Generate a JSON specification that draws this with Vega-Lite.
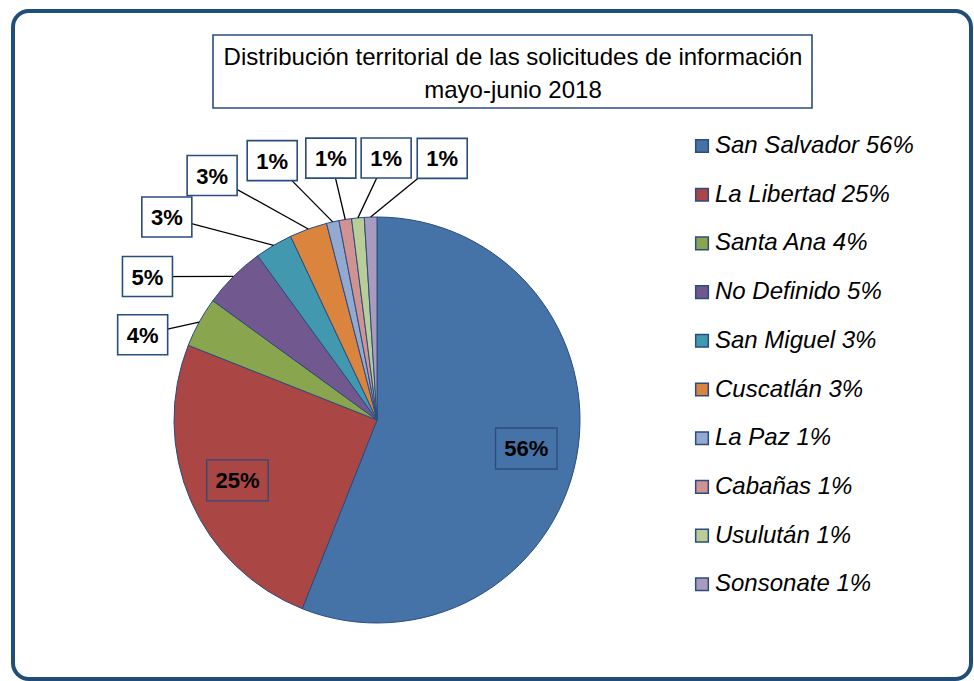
{
  "$schema": "https://vega.github.io/schema/vega-lite/v6.json",
  "width": 958,
  "height": 668,
  "autosize": {"type": "none"},
  "padding": {"left": 13, "top": 11, "right": 3, "bottom": 2},
  "background": "white",
  "config": {
    "view": {"stroke": "#1F4E79", "strokeWidth": 4, "cornerRadius": 16, "fill": "white"},
    "font": "Liberation Sans, Arial",
    "legend": {
      "orient": "none", "legendX": 677, "legendY": 123, "padding": 0,
      "labelFont": "Liberation Sans, Arial",
      "labelFontSize": 24, "labelFontStyle": "italic", "labelColor": "#000000",
      "labelOffset": 1, "rowPadding": 24.7, "symbolType": "square", "symbolSize": 160,
      "symbolStrokeColor": "#2B4C7E", "symbolStrokeWidth": 1.5, "labelLimit": 400
    }
  },
  "title": {
    "text": ["Distribución territorial de las solicitudes de información", "mayo-junio 2018"],
    "font": "Liberation Sans, Arial",
    "fontSize": 24, "fontWeight": "normal", "color": "#000000",
    "anchor": "middle", "dx": 21, "offset": -92, "lineHeight": 33
  },
  "data": {
    "values": [
      {"departamento": "San Salvador", "porcentaje": 56, "orden": 1, "leyenda": "San Salvador 56%"},
      {"departamento": "La Libertad", "porcentaje": 25, "orden": 2, "leyenda": "La Libertad 25%"},
      {"departamento": "Santa Ana", "porcentaje": 4, "orden": 3, "leyenda": "Santa Ana 4%"},
      {"departamento": "No Definido", "porcentaje": 5, "orden": 4, "leyenda": "No Definido 5%"},
      {"departamento": "San Miguel", "porcentaje": 3, "orden": 5, "leyenda": "San Miguel 3%"},
      {"departamento": "Cuscatlán", "porcentaje": 3, "orden": 6, "leyenda": "Cuscatlán 3%"},
      {"departamento": "La Paz", "porcentaje": 1, "orden": 7, "leyenda": "La Paz 1%"},
      {"departamento": "Cabañas", "porcentaje": 1, "orden": 8, "leyenda": "Cabañas 1%"},
      {"departamento": "Usulután", "porcentaje": 1, "orden": 9, "leyenda": "Usulután 1%"},
      {"departamento": "Sonsonate", "porcentaje": 1, "orden": 10, "leyenda": "Sonsonate 1%"}
    ]
  },
  "layer": [
    {
      "mark": {"type": "arc", "outerRadius": 203, "stroke": "#2B4C7E", "strokeWidth": 1},
      "encoding": {
        "x": {"datum": 0, "type": "quantitative", "scale": {"domain": [-364, 594], "nice": false, "zero": false}, "axis": null},
        "y": {"datum": 0, "type": "quantitative", "scale": {"domain": [-259, 409], "nice": false, "zero": false}, "axis": null},
        "theta": {"field": "porcentaje", "type": "quantitative", "stack": true},
        "order": {"field": "orden", "type": "quantitative"},
        "color": {
          "field": "leyenda", "type": "nominal", "sort": null,
          "scale": {"range": ["#4572A7", "#AA4643", "#89A54E", "#71588F", "#4198AF", "#DB843D", "#93A9CF", "#D19392", "#B9CD96", "#A99BBD"]},
          "legend": {"title": null}
        }
      }
    },
    {
      "transform": [
        {"joinaggregate": [{"op": "sum", "field": "porcentaje", "as": "total"}]},
        {"stack": "porcentaje", "groupby": [], "sort": [{"field": "orden", "order": "ascending"}], "as": ["acum0", "acum1"]},
        {"calculate": "PI * (datum.acum0 + datum.acum1) / datum.total", "as": "angMedio"},
        {"filter": "datum.porcentaje < 10"},
        {"window": [{"op": "row_number", "as": "rango"}], "sort": [{"field": "orden", "order": "ascending"}]},
        {"calculate": "(290 + 12 * (datum.rango - 1)) * PI / 180", "as": "angEtiqueta"},
        {"calculate": "pow(pow(abs(sin(datum.angEtiqueta)) / 235, 4) + pow(abs(cos(datum.angEtiqueta)) / 262, 4), -0.25)", "as": "radioEtiqueta"},
        {"calculate": "datum.radioEtiqueta * sin(datum.angEtiqueta)", "as": "xEtiqueta"},
        {"calculate": "datum.radioEtiqueta * cos(datum.angEtiqueta)", "as": "yEtiqueta"},
        {"calculate": "203 * sin(datum.angMedio)", "as": "xBorde"},
        {"calculate": "203 * cos(datum.angMedio)", "as": "yBorde"},
        {"calculate": "datum.porcentaje + '%'", "as": "textoPct"}
      ],
      "layer": [
        {
          "mark": {"type": "rule", "color": "#000000", "strokeWidth": 1.3},
          "encoding": {
            "x": {"field": "xBorde", "type": "quantitative", "scale": {"domain": [-364, 594], "nice": false, "zero": false}, "axis": null},
            "y": {"field": "yBorde", "type": "quantitative", "scale": {"domain": [-259, 409], "nice": false, "zero": false}, "axis": null},
            "x2": {"field": "xEtiqueta"},
            "y2": {"field": "yEtiqueta"}
          }
        },
        {
          "mark": {"type": "point", "shape": "M-1.25,-1L1.25,-1L1.25,1L-1.25,1Z", "size": 1600, "filled": true, "fill": "#FFFFFF", "stroke": "#2B4C7E", "strokeWidth": 1.6, "opacity": 1},
          "encoding": {
            "x": {"field": "xEtiqueta", "type": "quantitative", "scale": {"domain": [-364, 594], "nice": false, "zero": false}, "axis": null},
            "y": {"field": "yEtiqueta", "type": "quantitative", "scale": {"domain": [-259, 409], "nice": false, "zero": false}, "axis": null}
          }
        },
        {
          "mark": {"type": "text", "fontSize": 22, "fontWeight": "bold", "color": "#000000", "baseline": "middle", "align": "center", "dy": 1},
          "encoding": {
            "x": {"field": "xEtiqueta", "type": "quantitative", "scale": {"domain": [-364, 594], "nice": false, "zero": false}, "axis": null},
            "y": {"field": "yEtiqueta", "type": "quantitative", "scale": {"domain": [-259, 409], "nice": false, "zero": false}, "axis": null},
            "text": {"field": "textoPct"}
          }
        }
      ]
    },
    {
      "transform": [
        {"joinaggregate": [{"op": "sum", "field": "porcentaje", "as": "total"}]},
        {"stack": "porcentaje", "groupby": [], "sort": [{"field": "orden", "order": "ascending"}], "as": ["acum0", "acum1"]},
        {"calculate": "PI * (datum.acum0 + datum.acum1) / datum.total", "as": "angMedio"},
        {"filter": "datum.porcentaje >= 10"},
        {"calculate": "152 * sin(datum.angMedio)", "as": "xInterior"},
        {"calculate": "152 * cos(datum.angMedio)", "as": "yInterior"},
        {"calculate": "datum.porcentaje + '%'", "as": "textoPct"}
      ],
      "layer": [
        {
          "mark": {"type": "point", "shape": "M-1.5,-1L1.5,-1L1.5,1L-1.5,1Z", "size": 1681, "filled": false, "stroke": "#2B4C7E", "strokeWidth": 1.3, "opacity": 1},
          "encoding": {
            "x": {"field": "xInterior", "type": "quantitative", "scale": {"domain": [-364, 594], "nice": false, "zero": false}, "axis": null},
            "y": {"field": "yInterior", "type": "quantitative", "scale": {"domain": [-259, 409], "nice": false, "zero": false}, "axis": null}
          }
        },
        {
          "mark": {"type": "text", "fontSize": 22, "fontWeight": "bold", "color": "#000000", "baseline": "middle", "align": "center", "dy": 1},
          "encoding": {
            "x": {"field": "xInterior", "type": "quantitative", "scale": {"domain": [-364, 594], "nice": false, "zero": false}, "axis": null},
            "y": {"field": "yInterior", "type": "quantitative", "scale": {"domain": [-259, 409], "nice": false, "zero": false}, "axis": null},
            "text": {"field": "textoPct"}
          }
        }
      ]
    },
    {
      "data": {"values": [{"marco": "título"}]},
      "mark": {"type": "rect", "fill": "#FFFFFF", "stroke": "#2B4C7E", "strokeWidth": 1.6},
      "encoding": {
        "x": {"datum": -164, "type": "quantitative", "scale": {"domain": [-364, 594], "nice": false, "zero": false}, "axis": null},
        "x2": {"datum": 435},
        "y": {"datum": 385, "type": "quantitative", "scale": {"domain": [-259, 409], "nice": false, "zero": false}, "axis": null},
        "y2": {"datum": 312}
      }
    }
  ]
}
